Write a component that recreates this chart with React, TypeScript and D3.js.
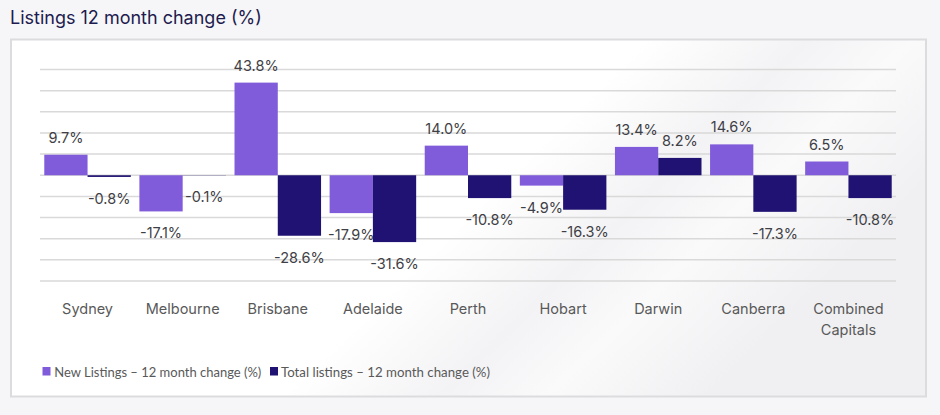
import React from "react";
import * as d3 from "d3";

const categories = ["Sydney", "Melbourne", "Brisbane", "Adelaide", "Perth", "Hobart", "Darwin", "Canberra", "Combined\nCapitals"];
const newListings = [9.7, -17.1, 43.8, -17.9, 14.0, -4.9, 13.4, 14.6, 6.5];
const totalListings = [-0.8, -0.1, -28.6, -31.6, -10.8, -16.3, 8.2, -17.3, -10.8];
const seriesNames = ["New Listings – 12 month change (%)", "Total listings – 12 month change (%)"];
const gridTicks = [50, 40, 30, 20, 10, 0, -10, -20, -30, -40, -50];

const W = 940, H = 415;
const COLORS = ["#805CDB", "#1F1272"];
const FONT = "Inter, 'Noto Sans', sans-serif";

export default function App() {
  const x0 = d3.scaleBand<string>().domain(categories).range([40, 896]).paddingInner(0.09).paddingOuter(0.045);
  const x1 = d3.scaleBand<number>().domain([0, 1]).range([0, x0.bandwidth()]);
  const y = d3.scaleLinear().domain([-50, 50]).range([281, 69.5]);
  const series = [newListings, totalListings];

  return (
    <svg width={W} height={H} style={{ position: "absolute", left: 0, top: 0 }} fontFamily={FONT}>
      <defs>
        <linearGradient id="bg" x1="0" y1="0" x2="1" y2="0.4">
          <stop offset="0" stopColor="#ffffff" />
          <stop offset="0.6" stopColor="#ffffff" />
          <stop offset="0.75" stopColor="#f3f3f5" />
          <stop offset="0.85" stopColor="#fafafb" />
          <stop offset="1" stopColor="#f0f0f2" />
        </linearGradient>
      </defs>
      <rect x={0} y={0} width={W} height={H} fill="#f6f6f8" />
      <text x={10} y={24} fontSize={18} fill="#1d1b4f">Listings 12 month change (%)</text>
      <rect x={11} y={39.5} width={915} height={357} fill="url(#bg)" stroke="#dcdcdf" strokeWidth={2} />
      {gridTicks.map((t) => (
        <line key={t} x1={40} x2={896} y1={y(t)} y2={y(t)} stroke="#d9d9d9" strokeWidth={1.5} />
      ))}
      {categories.map((c, i) => (
        <g key={c}>
          {series.map((s, k) => {
            const v = s[i];
            const bx = (x0(c) as number) + (x1(k) as number);
            const bw = x1.bandwidth();
            const top = y(Math.max(0, v));
            const bottom = y(Math.min(0, v));
            const h = bottom - top;
            const ly = v >= 0 ? top - 12 : bottom + 27;
            return (
              <g key={k}>
                <rect x={bx} y={top} width={bw} height={h} fill={COLORS[k]} />
                <text x={bx + bw / 2} y={ly} textAnchor="middle" fontSize={14.5} fill="#3f3f46">
                  {(v < 0 ? "-" : "") + Math.abs(v).toFixed(1) + "%"}
                </text>
              </g>
            );
          })}
          {c.split("\n").map((line, j) => (
            <text key={j} x={(x0(c) as number) + x0.bandwidth() / 2} y={314 + j * 21} textAnchor="middle" fontSize={14.5} fill="#595959">
              {line}
            </text>
          ))}
        </g>
      ))}
      <g fontFamily="Lato, 'Liberation Sans', sans-serif" fontSize={13.6} fill="#595959">
        <rect x={42.5} y={367} width={8} height={8.5} fill={COLORS[0]} />
        <text x={54.3} y={376.5} textLength={207} lengthAdjust="spacingAndGlyphs">{seriesNames[0]}</text>
        <rect x={270} y={367} width={8} height={8.5} fill={COLORS[1]} />
        <text x={281} y={376.5} textLength={209} lengthAdjust="spacingAndGlyphs">{seriesNames[1]}</text>
      </g>
    </svg>
  );
}
